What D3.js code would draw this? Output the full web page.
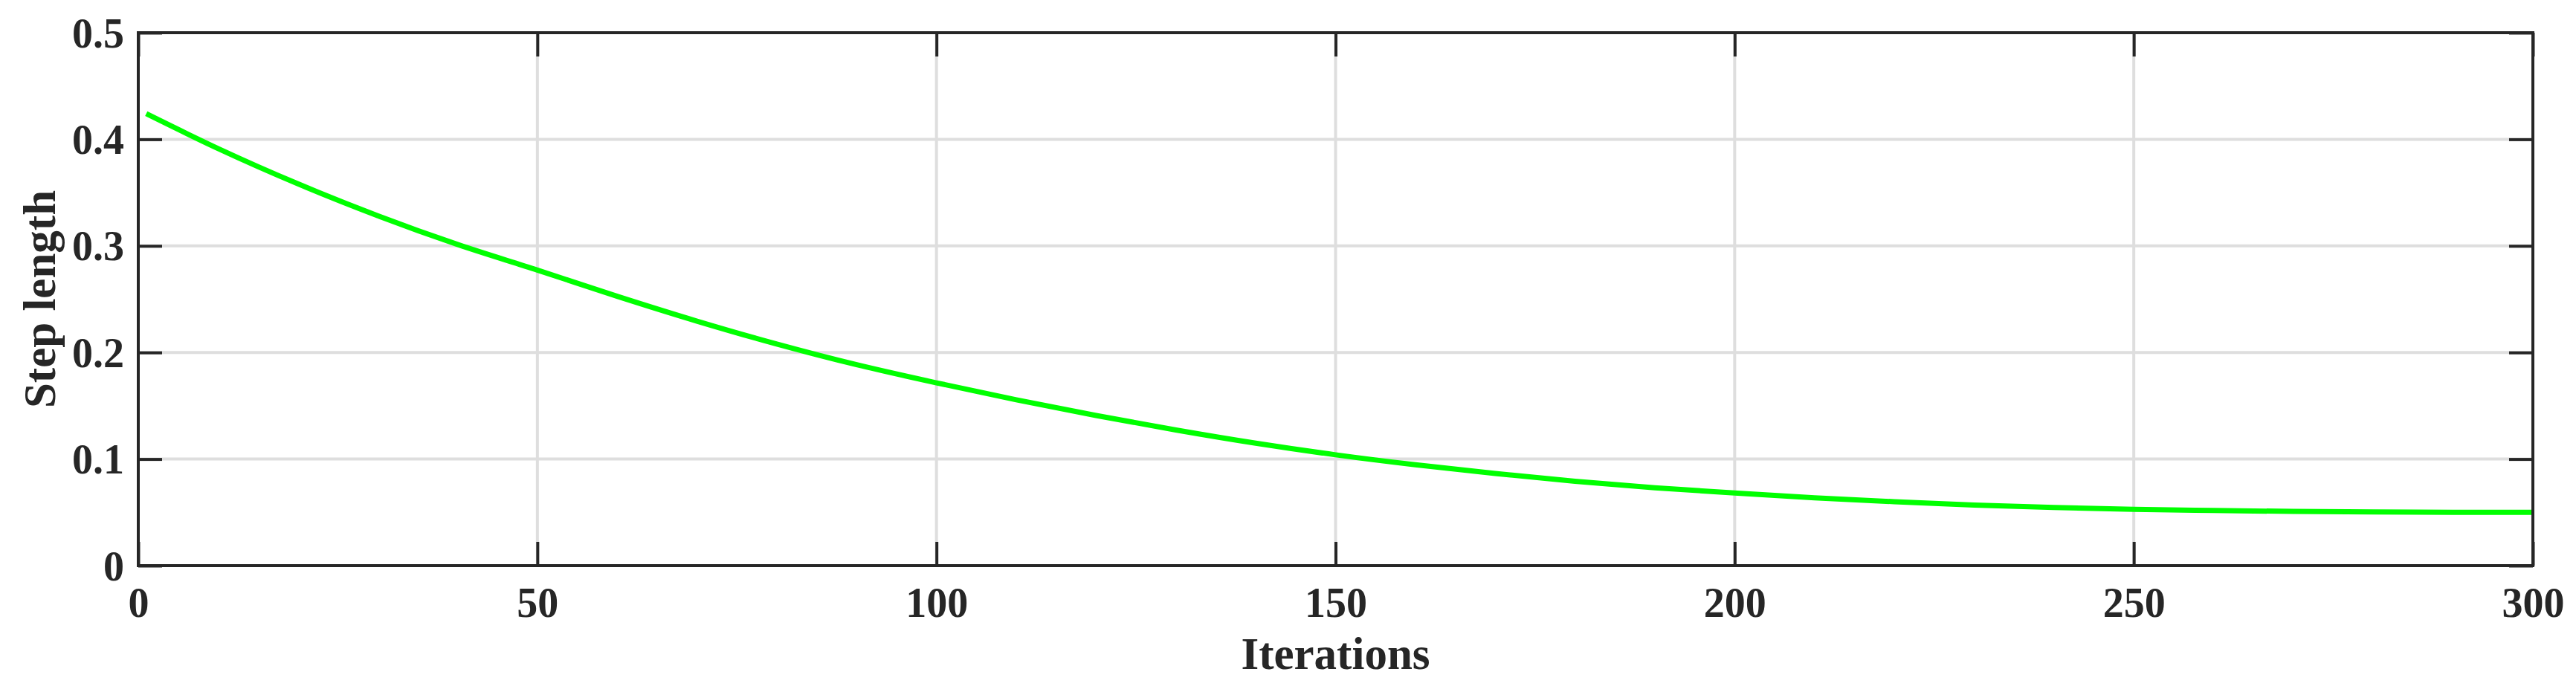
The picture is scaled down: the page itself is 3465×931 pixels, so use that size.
<!DOCTYPE html>
<html>
<head>
<meta charset="utf-8">
<script src="https://cdn.jsdelivr.net/npm/d3@7/dist/d3.min.js"></script>
<style>
  html, body { margin: 0; padding: 0; background: #ffffff; }
  svg { display: block; }
</style>
</head>
<body>
<svg id="chart" width="3465" height="931"></svg>
<script>
// ---- data ----
const iterations = [1, 10, 20, 30, 40, 50, 60, 70, 80, 90, 100, 110, 120, 130, 140, 150,
                    160, 170, 180, 190, 200, 210, 220, 230, 240, 250, 260, 270, 280, 290, 300];
const stepLength = [0.424, 0.3913, 0.3582, 0.3283, 0.3013, 0.2773, 0.2527, 0.2294, 0.2079, 0.1885,
                    0.1715, 0.1556, 0.1409, 0.1273, 0.1149, 0.1040, 0.0946, 0.0864, 0.0792, 0.0731,
                    0.0681, 0.0637, 0.0600, 0.0569, 0.0545, 0.0528, 0.0517, 0.0509, 0.0504, 0.0501, 0.0500];
const xTicks = [0, 50, 100, 150, 200, 250, 300];
const xTickLabels = ["0", "50", "100", "150", "200", "250", "300"];
const yTicks = [0, 0.1, 0.2, 0.3, 0.4, 0.5];
const yTickLabels = ["0", "0.1", "0.2", "0.3", "0.4", "0.5"];
const xLabel = "Iterations";
const yLabel = "Step length";

// ---- layout ----
const L = 186, R = 3407, T = 44, B = 761;
const axisColor = "#262626";
const gridColor = "#dedede";
const font = "'Liberation Serif', 'Times New Roman', Times, serif";

const svg = d3.select("#chart");
const x = d3.scaleLinear().domain([0, 300]).range([L, R]);
const y = d3.scaleLinear().domain([0, 0.5]).range([B, T]);

// grid
const grid = svg.append("g");
grid.selectAll("line.vx").data(xTicks.filter(d => d > 0 && d < 300)).enter()
  .append("line")
  .attr("x1", d => x(d)).attr("x2", d => x(d))
  .attr("y1", T).attr("y2", B)
  .attr("stroke", gridColor).attr("stroke-width", 4);
grid.selectAll("line.hy").data(yTicks.filter(d => d > 0 && d < 0.5)).enter()
  .append("line")
  .attr("x1", L).attr("x2", R)
  .attr("y1", d => y(d)).attr("y2", d => y(d))
  .attr("stroke", gridColor).attr("stroke-width", 4);

// curve
const data = iterations.map((it, i) => ({ it, v: stepLength[i] }));
svg.append("path")
  .datum(data)
  .attr("fill", "none")
  .attr("stroke", "#00ff00")
  .attr("stroke-width", 7)
  .attr("stroke-linejoin", "round")
  .attr("d", d3.line().x(d => x(d.it)).y(d => y(d.v)).curve(d3.curveMonotoneX));

// axes
function styleAxis(g) {
  g.select(".domain").remove();
  g.selectAll(".tick line").attr("stroke", axisColor).attr("stroke-width", 4);
  g.selectAll(".tick text")
    .attr("fill", axisColor)
    .style("font-family", font)
    .style("font-weight", "bold")
    .style("font-size", "56px");
}

const xFmt = (d) => xTickLabels[xTicks.indexOf(d)];
const yFmt = (d) => yTickLabels[yTicks.indexOf(d)];

const gx = svg.append("g").attr("transform", `translate(0,${B})`)
  .call(d3.axisBottom(x).tickValues(xTicks).tickFormat(xFmt).tickSizeInner(-32).tickSizeOuter(0).tickPadding(0));
styleAxis(gx);
gx.selectAll(".tick text").attr("y", 69).attr("dy", null);

const gxTop = svg.append("g").attr("transform", `translate(0,${T})`)
  .call(d3.axisTop(x).tickValues(xTicks).tickFormat("").tickSizeInner(-32).tickSizeOuter(0));
styleAxis(gxTop);

const gy = svg.append("g").attr("transform", `translate(${L},0)`)
  .call(d3.axisLeft(y).tickValues(yTicks).tickFormat(yFmt).tickSizeInner(-32).tickSizeOuter(0).tickPadding(19));
styleAxis(gy);
gy.selectAll(".tick text").attr("x", -19).attr("dy", "0.34em");

const gyR = svg.append("g").attr("transform", `translate(${R},0)`)
  .call(d3.axisRight(y).tickValues(yTicks).tickFormat("").tickSizeInner(-32).tickSizeOuter(0));
styleAxis(gyR);

// box
svg.append("rect")
  .attr("x", L).attr("y", T).attr("width", R - L).attr("height", B - T)
  .attr("fill", "none").attr("stroke", axisColor).attr("stroke-width", 4);

// axis labels
svg.append("text")
  .attr("x", (L + R) / 2).attr("y", 900)
  .attr("text-anchor", "middle")
  .attr("fill", axisColor)
  .style("font-family", font).style("font-weight", "bold").style("font-size", "61px")
  .text(xLabel);

svg.append("text")
  .attr("transform", `translate(74,${(T + B) / 2}) rotate(-90)`)
  .attr("text-anchor", "middle")
  .attr("fill", axisColor)
  .style("font-family", font).style("font-weight", "bold").style("font-size", "61px")
  .text(yLabel);
</script>
</body>
</html>
